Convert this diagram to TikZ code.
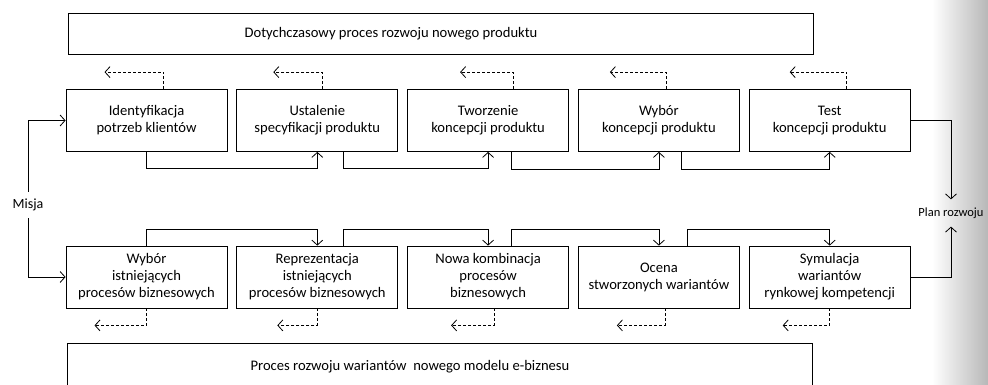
\documentclass[tikz,border=0pt]{standalone}
\usepackage{fontspec}
\setmainfont{Carlito}
\usetikzlibrary{positioning,arrows.meta}

\begin{document}
\begin{tikzpicture}[x=1pt, y=1pt, font=\fontsize{14.6}{17}\selectfont,
    proc/.style={draw, line width=0.8pt, minimum width=161pt, minimum height=62pt, align=center, inner sep=2pt},
    banner/.style={draw, line width=0.8pt, minimum width=745pt},
    flow/.style={line width=0.8pt, -{Straight Barb[length=5pt,width=11pt]}},
    back/.style={flow, dash pattern=on 3pt off 2pt}]
        % FRAME
        % -----------------

        \useasboundingbox (0,0) rectangle (988,384);
        \clip (0,0) rectangle (988,384);
        \shade[left color=white, right color=black!28] (932,0) rectangle (988,384);

        % NODES
        % -----------------

        \node[banner, minimum height=41pt]       (old_proc) at (441,350.5) {};
        \node                                    (old_text) at ([xshift=-50pt]old_proc.center) {Dotychczasowy proces rozwoju nowego produktu};

        % Current product process
        \node[proc]                 (ident) at (146.5,263.5) {Identyfikacja\\potrzeb klientów};
        \node[proc, right=9pt of ident] (spec)  {Ustalenie\\specyfikacji produktu};
        \node[proc, right=9pt of spec]  (tworz) {Tworzenie\\koncepcji produktu};
        \node[proc, right=9pt of tworz] (wybor) {Wybór\\koncepcji produktu};
        \node[proc, right=9pt of wybor] (test)  {Test\\koncepcji produktu};

        % e-business variants process
        \node[proc]                 (istn)  at (146.5,107) {Wybór\\istniejących\\procesów biznesowych};
        \node[proc, right=9pt of istn]  (repr)  {Reprezentacja\\istniejących\\procesów biznesowych};
        \node[proc, right=9pt of repr]  (nowa)  {Nowa kombinacja\\procesów\\biznesowych};
        \node[proc, right=9pt of nowa]  (ocena) {Ocena\\stworzonych wariantów};
        \node[proc, right=9pt of ocena] (symul) {Symulacja\\wariantów\\rynkowej kompetencji};

        \node[banner, minimum height=60pt, anchor=north] (new_proc) at (439.5,41) {};
        \node                                    (new_text) at (410,17) {Proces rozwoju wariantów \ nowego modelu e-biznesu};

        \node[inner ysep=7pt, font=\fontsize{14}{16}\selectfont] (misja) at (28,179) {Misja};
        \node[inner ysep=8pt, inner xsep=1pt, font=\fontsize{12.5}{14}\selectfont] (plan)  at (951,171) {Plan rozwoju};

        % EDGES
        % -----------------

        % forward steps, upper row
        \draw[flow] (ident.south) -- ++(0,-16) -| (spec.south);
        \draw[flow] ([xshift=26pt]spec.south) -- ++(0,-16) -| (tworz.south);
        \draw[flow] ([xshift=23pt]tworz.south) -- ++(0,-17) -| (wybor.south);
        \draw[flow] ([xshift=22pt]wybor.south) -- ++(0,-17) -| (test.south);

        % feedback, upper row
        \draw[back] ([xshift=17pt]ident.north) -- ++(0,17) -- ++(-59,0);
        \draw[back] ([xshift=5pt]spec.north) -- ++(0,17) -- ++(-49,0);
        \draw[back] ([xshift=25pt]tworz.north) -- ++(0,17) -- ++(-53,0);
        \draw[back] ([xshift=7pt]wybor.north) -- ++(0,17) -- ++(-56,0);
        \draw[back] ([xshift=17pt]test.north) -- ++(0,17) -- ++(-57,0);

        % forward steps, lower row
        \draw[flow] (istn.north) -- ++(0,16) -| (repr.north);
        \draw[flow] ([xshift=26pt]repr.north) -- ++(0,16) -| (nowa.north);
        \draw[flow] ([xshift=23pt]nowa.north) -- ++(0,16) -| (ocena.north);
        \draw[flow] ([xshift=28pt]ocena.north) -- ++(0,16) -| (symul.north);

        % feedback, lower row
        \draw[back] (istn.south) -- ++(0,-17) -- ++(-52,0);
        \draw[back] (repr.south) -- ++(0,-17) -- ++(-40,0);
        \draw[back] ([xshift=6pt]nowa.south) -- ++(0,-17) -- ++(-43,0);
        \draw[back] ([xshift=6pt]ocena.south) -- ++(0,-17) -- ++(-48,0);
        \draw[back] (symul.south) -- ++(0,-17) -- ++(-47,0);

        % mission and plan
        \draw[flow] (misja.north) |- (ident.west);
        \draw[flow] (misja.south) |- (istn.west);
        \draw[flow] (test.east) -| (plan.north);
        \draw[flow] (symul.east) -| (plan.south);

\end{tikzpicture}
\end{document}
